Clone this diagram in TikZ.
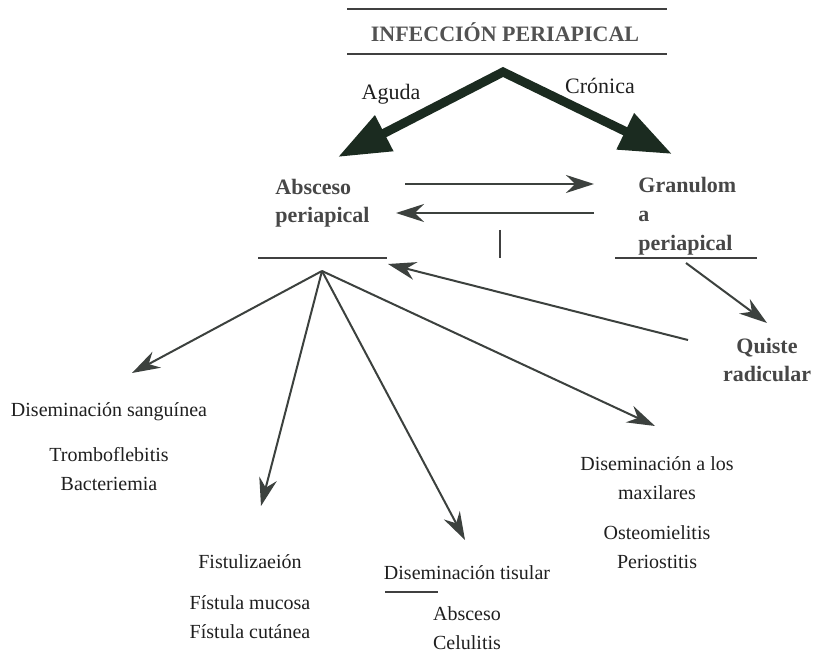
\documentclass[tikz,border=0pt]{standalone}
\usepackage{fontspec}
\setmainfont{Liberation Serif}
\usepackage{xcolor}
\usepackage{tikz}
\usetikzlibrary{positioning,arrows.meta}
\definecolor{arrowgreen}{HTML}{1B2B20}
\definecolor{arrowgray}{HTML}{3C413E}
\tikzset{title node/.style={font=\fontsize{11}{13}\selectfont\bfseries,text=black!68,inner sep=0pt},
bold node/.style={font=\fontsize{11}{14}\selectfont\bfseries,text=black!72,align=left,inner sep=0pt},
text node/.style={font=\fontsize{10}{14.5}\selectfont,text=black!88,align=center,inner sep=0pt},
thin arrow/.style={draw=arrowgray,line width=1pt,-{Stealth[length=14pt,width=9pt]}},
big arrow/.style={draw=arrowgreen,line width=4.5pt,line join=miter},
rule line/.style={draw=black!75,line width=.7pt},}

\begin{document}
\begin{tikzpicture}[x=0.5pt,y=-0.5pt]
    \useasboundingbox (0,0) rectangle (822,656);
    % title
    \node[title node] (1) at (505,32) {INFECCIÓN PERIAPICAL};
    \coordinate (t1) at (347,9);
    \coordinate (t2) at (667,9);
    \coordinate (t3) at (347,54);
    \coordinate (t4) at (667,54);
    \path[rule line] (t1) -- (t2) (t3) -- (t4);

    % aguda / cronica
    \coordinate (top) at (503,72);
    \coordinate (lt) at (338,157);
    \coordinate (rt) at (672,154);
    \draw[big arrow,{Triangle[length=26pt,width=19pt]}-{Triangle[length=26pt,width=19pt]}] (lt) -- (top) -- (rt);
    \node[text node,font=\fontsize{11}{13}\selectfont] (2) at (391,94) {Aguda};
    \node[text node,font=\fontsize{11}{13}\selectfont] (3) at (600,86) {Crónica};

    % absceso / granuloma
    \node[bold node,anchor=west] (4) at (275,203) {Absceso\\periapical};
    \node[bold node,anchor=west,font=\fontsize{11}{14.5}\selectfont\bfseries] (5) at (638,216) {Granulom\\a\\periapical};
    \node[bold node,align=center] (6) at (767,360) {Quiste\\radicular};
    \coordinate (a1) at (405,184);
    \coordinate (a2) at (594,184);
    \coordinate (a3) at (594,213);
    \coordinate (a4) at (396,213);
    \path (a1) edge[thin arrow] (a2)
          (a3) edge[thin arrow] (a4);
    \coordinate (v1) at (500,230);
    \coordinate (v2) at (500,258);
    \coordinate (u1) at (258,258);
    \coordinate (u2) at (387,258);
    \coordinate (u3) at (615,258);
    \coordinate (u4) at (757,258);
    \path[rule line] (v1) -- (v2) (u1) -- (u2) (u3) -- (u4);
    \coordinate (g1) at (686,263);
    \coordinate (g2) at (767,323);
    \coordinate (q1) at (688,340);
    \coordinate (q2) at (388,264);
    \path (g1) edge[thin arrow] (g2)
          (q1) edge[thin arrow] (q2);

    % consequences
    \coordinate (c) at (322,271);
    \coordinate (s) at (132,373);
    \coordinate (f) at (261,506);
    \coordinate (d) at (465,540);
    \coordinate (m) at (655,426);
    \path (c) edge[thin arrow] (s)
          (c) edge[thin arrow] (f)
          (c) edge[thin arrow] (d)
          (c) edge[thin arrow] (m);

    \node[text node] (7) at (109,412) {Diseminación sanguínea};
    \node[text node] (8) [below = 13pt of 7] {Tromboflebitis\\Bacteriemia};
    \node[text node] (9) at (250,562) {Fistulizaeión};
    \node[text node] (10) [below = 13pt of 9] {Fístula mucosa\\Fístula cutánea};
    \node[text node] (11) at (467,573) {Diseminación tisular};
    \node[text node] (12) [below = 13pt of 11] {Absceso\\Celulitis};
    \coordinate (w1) at (385,592);
    \coordinate (w2) at (438,592);
    \path[rule line] (w1) -- (w2);
    \node[text node] (13) at (657,478) {Diseminación a los\\maxilares};
    \node[text node] (14) [below = 12.5pt of 13] {Osteomielitis\\Periostitis};
\end{tikzpicture}
\end{document}
